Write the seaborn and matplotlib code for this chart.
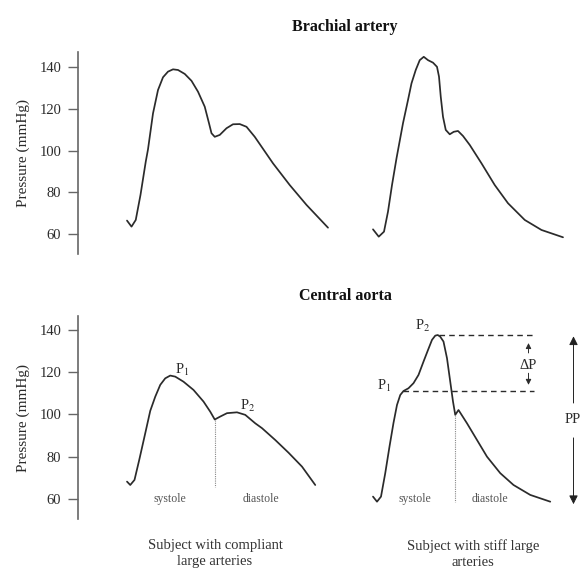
import pandas as pd
import matplotlib.pyplot as plt
import seaborn as sns

# digitised pulse waves: time in ms from the foot of the wave, pressure in mmHg
brachial_compliant_t = [0, 18, 35, 54, 75, 84, 104, 124, 144, 164, 184, 204, 231, 258, 284, 311,
                        328, 338, 351, 371, 398, 424, 451, 478, 511, 584, 651, 718, 804]
brachial_compliant_p = [66.5, 63.6, 66.8, 78.8, 94.7, 100.6, 117.8, 129.0, 135.1, 137.8, 138.9,
                        138.6, 136.7, 133.4, 128.2, 121.0, 113.1, 108.3, 106.6, 107.5, 110.7,
                        112.6, 112.7, 111.4, 106.6, 93.9, 83.5, 74.0, 63.1]

brachial_stiff_t = [0, 23, 44, 60, 76, 94, 120, 140, 154, 171, 187, 203, 220, 240, 256, 264, 271,
                    280, 291, 307, 323, 340, 360, 387, 434, 487, 540, 607, 674, 760]
brachial_stiff_p = [62.3, 58.8, 61.2, 70.8, 83.5, 96.3, 113.1, 124.2, 132.2, 138.6, 143.3, 144.9,
                    143.3, 142.1, 140.1, 135.4, 125.8, 116.2, 109.9, 107.8, 109.0, 109.4, 107.0,
                    102.7, 93.9, 83.5, 74.8, 66.8, 62.0, 58.5]

aorta_compliant_t = [0, 13, 30, 49, 73, 93, 113, 133, 153, 173, 193, 226, 266, 306, 333, 351,
                     373, 400, 440, 473, 513, 540, 593, 646, 700, 753]
aorta_compliant_p = [68.2, 66.6, 69.0, 78.5, 91.1, 101.7, 108.4, 114.0, 117.1, 118.4, 117.9,
                     115.5, 111.6, 106.1, 101.3, 97.6, 99.0, 100.6, 101.0, 99.8, 95.8, 93.5,
                     87.9, 81.9, 75.3, 66.6]

aorta_stiff_t = [0, 16, 32, 49, 66, 82, 96, 109, 122, 142, 162, 182, 202, 220, 236, 249, 259,
                 269, 282, 296, 309, 320, 329, 342, 376, 416, 456, 509, 562, 629, 709]
aorta_stiff_p = [61.1, 58.7, 61.1, 72.2, 84.8, 96.0, 104.5, 109.2, 111.1, 112.4, 114.8, 118.7,
                 125.0, 130.5, 135.3, 137.3, 137.6, 136.8, 134.5, 126.6, 115.5, 106.1, 99.8,
                 102.1, 95.8, 87.9, 80.0, 72.2, 66.6, 61.9, 58.7]

# end of systole (dicrotic notch) and the two systolic peaks
compliant_notch_idx = 15
stiff_notch_idx = 22
stiff_p1_idx = 8
stiff_p2_idx = 16

pressure_ticks = [60, 80, 100, 120, 140]
panel_titles = ["Brachial artery", "Central aorta"]
subject_labels = ["Subject with compliant\nlarge arteries", "Subject with stiff large\narteries"]

left_start = 196
right_start = 1180

sns.set_theme(style="white")
plt.rcParams['font.family'] = ['Liberation Serif', 'DejaVu Serif']
plt.rcParams['mathtext.fontset'] = 'stix'

ink = '#2b2b2b'
grey = '#666666'

fig = plt.figure(figsize=(5.81, 5.70), dpi=100)
ax_top = fig.add_axes([78 / 581, 1 - 254 / 570, 503 / 581, 202 / 570])
ax_bot = fig.add_axes([78 / 581, 1 - 519 / 570, 503 / 581, 203 / 570])


def beat_frame(t, p, start):
    return pd.DataFrame({"time": [v + start for v in t], "pressure": p})


top_left = beat_frame(brachial_compliant_t, brachial_compliant_p, left_start)
top_right = beat_frame(brachial_stiff_t, brachial_stiff_p, right_start)
bot_left = beat_frame(aorta_compliant_t, aorta_compliant_p, left_start)
bot_right = beat_frame(aorta_stiff_t, aorta_stiff_p, right_start)

for ax, beats in [(ax_top, [top_left, top_right]), (ax_bot, [bot_left, bot_right])]:
    for df in beats:
        sns.lineplot(data=df, x="time", y="pressure", ax=ax, color=ink, lw=1.25, estimator=None)
    ax.set_xlim(0, 2012)
    ax.set_yticks(pressure_ticks)
    ax.set_xticks([])
    ax.set_xlabel("")
    ax.set_ylabel("Pressure (mmHg)", fontsize=11, color=ink, labelpad=7)
    sns.despine(ax=ax, bottom=True)
    ax.spines['left'].set_color(grey)
    ax.spines['left'].set_linewidth(1.2)
    ax.tick_params(axis='y', left=True, length=7, width=1.0, color=grey,
                   labelsize=10.5, labelcolor=ink, pad=5)
    ax.patch.set_alpha(0)

ax_top.set_ylim(50.5, 147.2)
ax_bot.set_ylim(50.5, 146.6)

# titles and subject captions
fig.text(345 / 581, 1 - 27 / 570, panel_titles[0], ha='center', va='center',
         fontsize=11.5, fontweight='bold', color='#111')
fig.text(345 / 581, 1 - 296 / 570, panel_titles[1], ha='center', va='center',
         fontsize=11.5, fontweight='bold', color='#111')
fig.text(215 / 581, 1 - 554 / 570, subject_labels[0], ha='center', va='center',
         fontsize=10.5, color='#333', linespacing=1.3)
fig.text(473 / 581, 1 - 554 / 570, subject_labels[1], ha='center', va='center',
         fontsize=10.5, color='#333', linespacing=1.3)

# systole / diastole split
notch_l = left_start + aorta_compliant_t[compliant_notch_idx]
ax_bot.plot([notch_l, notch_l], [aorta_compliant_p[compliant_notch_idx], 65.8],
            color='#888', lw=0.8, ls=(0, (1, 1)))
notch_r = right_start + aorta_stiff_t[stiff_notch_idx]
ax_bot.plot([notch_r, notch_r], [aorta_stiff_p[stiff_notch_idx], 58.7],
            color='#888', lw=0.8, ls=(0, (1, 1)))

for x, s in [(368, "systole"), (731, "diastole"), (1348, "systole"), (1648, "diastole")]:
    ax_bot.text(x, 60, s, ha='center', va='center', fontsize=8.5, color='#555')

# P1 / P2 labels
ax_bot.text(388, 119.2, r"P$_1$", fontsize=10.5, color=ink)
ax_bot.text(648, 102.1, r"P$_2$", fontsize=10.5, color=ink)
ax_bot.text(1348, 140.0, r"P$_2$", fontsize=10.5, color=ink)
ax_bot.text(1197, 111.6, r"P$_1$", fontsize=10.5, color=ink)

# augmentation lines
p2_t = right_start + aorta_stiff_t[stiff_p2_idx]
p2_p = aorta_stiff_p[stiff_p2_idx]
p1_t = right_start + aorta_stiff_t[stiff_p1_idx]
p1_p = aorta_stiff_p[stiff_p1_idx]
ax_bot.plot([p2_t + 6, 1818], [p2_p, p2_p], color=ink, lw=1.0, ls=(0, (4, 3)))
ax_bot.plot([p1_t, 1824], [p1_p, p1_p], color=ink, lw=1.0, ls=(0, (4, 3)))

arrow_small = dict(arrowstyle='-|>', color=ink, lw=0.7, mutation_scale=8, shrinkA=0, shrinkB=0)
ax_bot.annotate("", xy=(1802, 133.8), xytext=(1802, 129.1), arrowprops=arrow_small)
ax_bot.annotate("", xy=(1802, 114.0), xytext=(1802, 119.5), arrowprops=arrow_small)
ax_bot.text(1802, 123.4, "ΔP", ha='center', va='center', fontsize=10.5, color=ink)

arrow_big = dict(arrowstyle='-|>', color='#222', lw=0.7, mutation_scale=13, shrinkA=0, shrinkB=0)
ax_bot.annotate("", xy=(1982, 137.0), xytext=(1982, 105.4), arrowprops=arrow_big,
                annotation_clip=False)
ax_bot.annotate("", xy=(1982, 57.5), xytext=(1982, 88.9), arrowprops=arrow_big,
                annotation_clip=False)
ax_bot.text(1948, 97.4, "PP", ha='left', va='center', fontsize=10.5, color=ink, clip_on=False)

fig.savefig("out.png", dpi=100, facecolor='white')
